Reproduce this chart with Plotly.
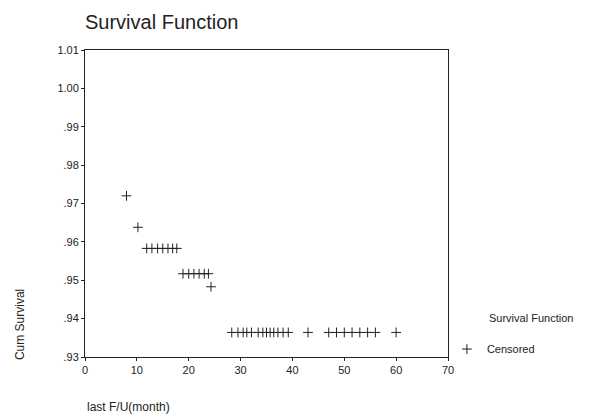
import plotly.graph_objects as go

# Censored observations (time in months, cumulative survival)
cens_time = [8, 10.2,
             11.9, 12.9, 14, 15, 16, 16.9, 17.7,
             18.9, 20, 21, 22, 23, 23.8,
             24.3,
             28.3, 29.5, 30.5, 31.2, 32.1, 33.4, 34.3, 35.0, 35.7, 36.4, 37.2, 38.2, 39.2,
             43,
             47, 48.5, 50, 51.5, 53, 54.5, 56,
             60]
cens_surv = [0.972, 0.9638,
             0.9583, 0.9583, 0.9583, 0.9583, 0.9583, 0.9583, 0.9583,
             0.9517, 0.9517, 0.9517, 0.9517, 0.9517, 0.9517,
             0.9483,
             0.9364, 0.9364, 0.9364, 0.9364, 0.9364, 0.9364, 0.9364, 0.9364, 0.9364, 0.9364, 0.9364, 0.9364, 0.9364,
             0.9364,
             0.9364, 0.9364, 0.9364, 0.9364, 0.9364, 0.9364, 0.9364,
             0.9364]

y_ticks = [0.93, 0.94, 0.95, 0.96, 0.97, 0.98, 0.99, 1.00, 1.01]
y_labels = [".93", ".94", ".95", ".96", ".97", ".98", ".99", "1.00", "1.01"]
x_ticks = [0, 10, 20, 30, 40, 50, 60, 70]

FONT = "Liberation Sans, Arial, sans-serif"
INK = "#222222"

fig = go.Figure()
fig.add_trace(go.Scatter(
    x=cens_time, y=cens_surv, mode="markers", name="Censored",
    marker=dict(symbol="cross-thin", size=7, color=INK,
                line=dict(color=INK, width=1)),
))

fig.update_layout(
    width=592, height=417,
    margin=dict(l=77, r=152, t=42, b=68),
    paper_bgcolor="white", plot_bgcolor="white",
    font=dict(family=FONT, size=10, color=INK),
    showlegend=True,
    title=dict(text="Survival Function", x=77 / 592, xanchor="left",
               y=1 - 14 / 417, yanchor="middle",
               font=dict(size=20, color=INK, family=FONT)),
    legend=dict(
        x=0.997, xanchor="left", y=0.026, yanchor="middle",
        bgcolor="rgba(0,0,0,0)", font=dict(size=11, color=INK),
        itemwidth=30,
    ),
    xaxis=dict(
        range=[0, 70], tickvals=x_ticks, showgrid=False, zeroline=False,
        showline=True, linecolor=INK, linewidth=1, mirror=True,
        ticks="outside", ticklen=3, tickcolor=INK,
        tickfont=dict(size=11, color=INK),
    ),
    yaxis=dict(
        range=[0.93, 1.01], tickvals=y_ticks, ticktext=y_labels,
        showgrid=False, zeroline=False,
        showline=True, linecolor=INK, linewidth=1, mirror=True,
        ticks="outside", ticklen=3, tickcolor=INK,
        tickfont=dict(size=11, color=INK),
    ),
    annotations=[
        dict(text="Cum Survival", xref="paper", yref="paper",
             x=-0.179, y=0.104, xanchor="center", yanchor="middle",
             textangle=-90, showarrow=False, font=dict(size=12, color=INK)),
        dict(text="last F/U(month)", xref="paper", yref="paper",
             x=0.0, y=-0.163, xanchor="left", yanchor="middle",
             showarrow=False, font=dict(size=12, color=INK)),
        dict(text="Survival Function", xref="paper", yref="paper",
             x=1.107, y=0.127, xanchor="left", yanchor="middle",
             showarrow=False, font=dict(size=11, color=INK)),
    ],
)

fig.write_html("out.html")
